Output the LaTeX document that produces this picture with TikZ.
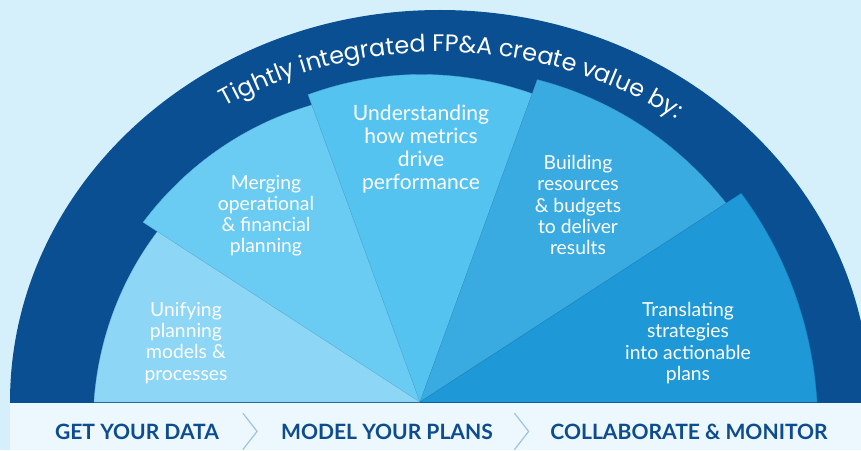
\documentclass[tikz,border=0pt]{standalone}
\usepackage{fontspec}
\setmainfont{Lato}
\newfontfamily\titlefont{Poppins}
\usetikzlibrary{decorations.text,calc}
\definecolor{bgblue}{HTML}{D5F0FB}
\definecolor{stripblue}{HTML}{ECF8FE}
\definecolor{bandblue}{HTML}{0B4F93}
\definecolor{wedgeA}{HTML}{8DD6F6}
\definecolor{wedgeB}{HTML}{6BCCF3}
\definecolor{wedgeC}{HTML}{55C3F0}
\definecolor{wedgeD}{HTML}{3AABE1}
\definecolor{wedgeE}{HTML}{1E98D6}
\definecolor{stepblue}{HTML}{0D4C8E}
\definecolor{chevblue}{HTML}{A3C3E3}
\begin{document}
\begin{tikzpicture}[x=0.02cm,y=0.02cm, line join=round, line cap=round,
	wedgetext/.style={text=white, align=center, font=\fontsize{11}{12}\selectfont},
	steptext/.style={text=stepblue, anchor=base, font=\bfseries\fontsize{12}{14}\selectfont}]
	\def\ax{420} \def\ay{48} % apex of the fan
	\useasboundingbox (0,0) rectangle (861,450);
	\fill[bgblue] (0,0) rectangle (861,450);
	\fill[stripblue] (10,0) rectangle (861,\ay);
	\begin{scope}
		\clip (0,\ay) rectangle (861,450);
		\fill[bandblue] (440,\ay) ellipse[x radius=430, y radius=392];
	\end{scope}
	% blades: colour / start angle / end angle / start radius / end radius
	\begin{scope}[shift={(\ax,\ay)}]
		\foreach \col/\ts/\te/\rs/\re in {wedgeA/180/147/326/313, wedgeB/147/110/330/316,
			wedgeC/110/70/327/328, wedgeD/70/33/343/365, wedgeE/33/0/383/397}
		\filldraw[fill=\col, draw=\col!88!black, line width=0.2pt] (0,0) -- plot[domain=\ts:\te, samples=40]
			(\x:{\rs+(\re-\rs)*(\x-\ts)/(\te-\ts)}) -- cycle;
	\end{scope}
	\path[decorate, decoration={text along path, text align=center,
		text={|\titlefont\fontsize{13.6}{16}\selectfont\color{white}|Tightly integrated FP{\&}A create value by:}}]
		(440,\ay) ++(158:400 and 350) arc[start angle=158, end angle=18, x radius=400, y radius=350];
	\node[wedgetext] (unify) at (186,107) {Unifying\\planning\\models \&\\processes};
	\node[wedgetext] (merge) at (266,234) {Merging\\operational\\\& financial\\planning};
	\node[wedgetext, font=\fontsize{12}{13.2}\selectfont] (understand) at (421,301) {Understanding\\how metrics\\drive\\performance};
	\node[wedgetext] (build) at (578,245) {Building\\resources\\\& budgets\\to deliver\\results};
	\node[wedgetext] (translate) at (688,107) {Translating\\strategies\\into actionable\\plans};
	\node[steptext] (getdata) at (137,11) {GET YOUR DATA};
	\node[steptext] (model) at (387,11) {MODEL YOUR PLANS};
	\node[steptext] (collab) at (689,11) {COLLABORATE \& MONITOR};
	\coordinate (chevA) at ($(getdata.east)!.5!(model.west)$);
	\coordinate (chevB) at ($(model.east)!.5!(collab.west)$);
	\foreach \c in {chevA,chevB}
	\draw[chevblue, line width=0.7pt] ([shift={(-7,18)}]\c) -- ([shift={(7,0)}]\c) -- ([shift={(-7,-18)}]\c);
\end{tikzpicture}
\end{document}
